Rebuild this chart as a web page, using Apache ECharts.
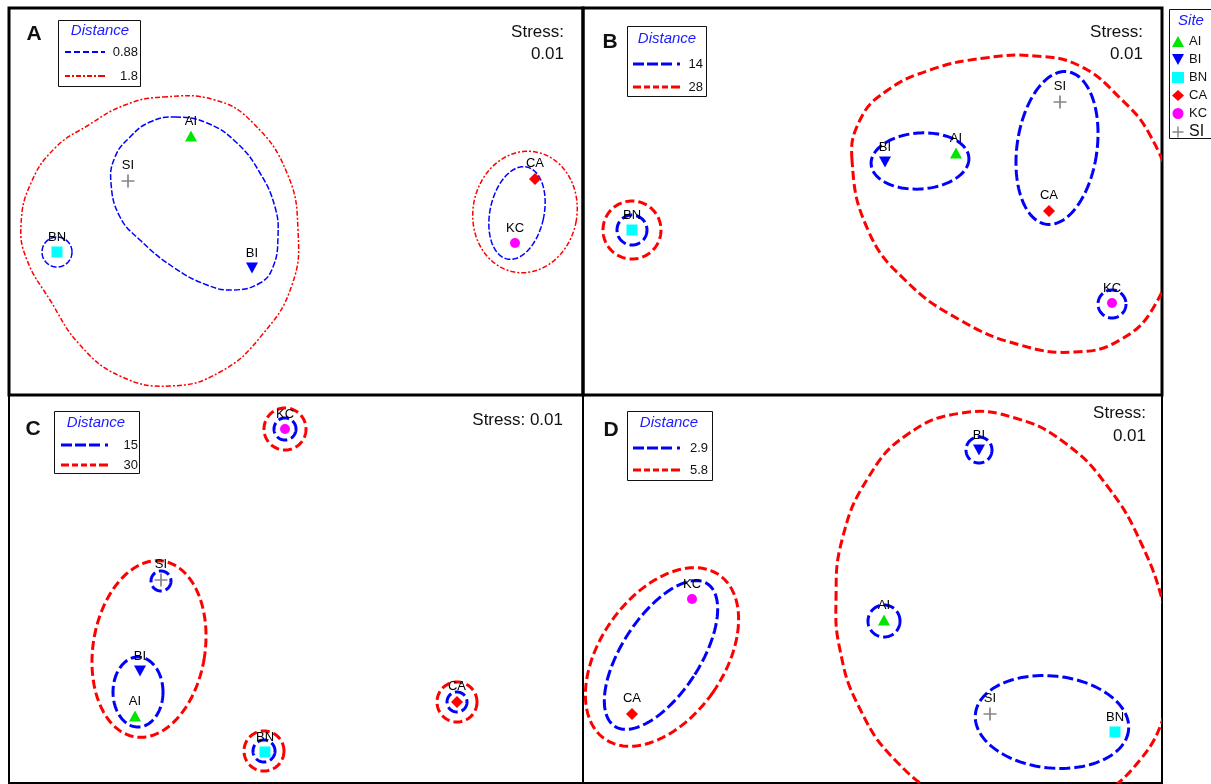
<!DOCTYPE html>
<html>
<head>
<meta charset="utf-8">
<title>nMDS panels</title>
<script src="https://cdn.jsdelivr.net/npm/echarts/dist/echarts.min.js"></script>
<style>
  html, body { margin: 0; padding: 0; background: #fff; }
  #chart { width: 1211px; height: 784px; }
</style>
</head>
<body>
<div id="chart"></div>
<script>
// sites, in legend order
const sites = ["AI", "BI", "BN", "CA", "KC", "SI"]

// site positions per panel (same order as sites)
const posA = [[191, 136], [252, 268], [57, 252], [535, 179], [515, 243], [128, 181]]
const posB = [[956, 153], [885, 162], [632, 230], [1049, 211], [1112, 303], [1060, 102]]
const posC = [[135, 716], [140, 671], [265, 752], [457, 702], [285, 429], [161, 580]]
const posD = [[884, 620], [979, 450], [1115, 732], [632, 714], [692, 599], [990, 714]]

// distance levels per panel (small, large)
const levelsA = ["0.88", "1.8"]
const levelsB = ["14", "28"]
const levelsC = ["15", "30"]
const levelsD = ["2.9", "5.8"]

// cluster rings: [cx, cy, rx, ry, tilt deg]
const ringsA1 = [[57, 252, 15, 15, 0], [517, 213, 27, 47, 12]]
const ringsA2 = [[525, 212, 52, 61, 10]]
const ringsB1 = [[632, 230, 15, 15, 0], [1112, 304, 14, 14, 0], [920, 161, 49, 28, -4], [1057, 148, 40, 77, 8]]
const ringsB2 = [[632, 230, 29, 29, 0]]
const ringsC1 = [[285, 429, 11, 11, 0], [161, 581, 10, 10, 0], [457, 702, 10, 10, 0], [264, 751, 11, 11, 0], [138, 692, 25, 35, 0]]
const ringsC2 = [[285, 429, 21, 21, 0], [457, 702, 20, 20, 0], [264, 751, 20, 20, 0], [149, 649, 56, 89, 9]]
const ringsD1 = [[979, 450, 13, 13, 0], [884, 621, 16, 16, 0], [661, 655, 39, 85, 33], [1052, 722, 77, 46, 6]]
const ringsD2 = [[662, 657, 62, 100, 35]]

// free-form cluster outlines
const loopA1 = [[175, 117], [207, 123], [237, 143], [260, 173], [275, 207], [278, 237], [273, 267], [260, 283],
  [233, 290], [207, 285], [173, 267], [140, 240], [120, 217], [111, 183], [115, 157], [130, 137], [150, 122]]
const loopA2 = [[163, 97], [215, 100], [253, 123], [287, 173], [298, 230], [292, 285], [262, 335], [220, 372],
  [170, 386], [120, 376], [80, 345], [50, 300], [27, 260], [21, 225], [31, 183], [55, 148], [87, 126], [125, 105]]
const loopB2 = [[852, 160], [860, 120], [885, 92], [930, 70], [985, 58], [1035, 56], [1080, 66], [1120, 98],
  [1150, 135], [1170, 190], [1172, 250], [1155, 305], [1120, 340], [1075, 352], [1020, 345], [960, 320],
  [905, 280], [868, 230]]
const loopD2 = [[836, 600], [842, 540], [868, 478], [908, 434], [962, 413], [1015, 418], [1065, 443], [1108, 487],
  [1142, 545], [1165, 610], [1175, 665], [1168, 705], [1140, 760], [1090, 800], [1020, 820], [950, 800],
  [895, 760], [858, 705], [840, 650]]

// ---- styles ----
const FONT = "Liberation Sans, Arial, sans-serif"
const BLUE = "#0000ff"
const RED = "#ff0000"
const siteColors = ["#00e600", "#0000ff", "#00ffff", "#ff0000", "#ff00ff", "#888888"]
const plusPath = "path://M5.2,0h1.6v5.2h5.2v1.6h-5.2v5.2h-1.6v-5.2h-5.2v-1.6h5.2z"
const siteSymbols = ["triangle", "triangle", "rect", "diamond", "circle", plusPath]
const siteSizes = [[12, 11], [12, 11], 11, 12, 10, 13]

const panels = [
  { x: [9, 583], y: [8, 395], bw: 3, pos: posA },
  { x: [583, 1162], y: [8, 395], bw: 3, pos: posB },
  { x: [9, 583], y: [395, 783], bw: 2, pos: posC },
  { x: [583, 1162], y: [395, 783], bw: 2, pos: posD }
]

function lineStyleFor(color, thin) {
  if (thin) {
    return color === BLUE
      ? { lineWidth: 1.5, lineDash: [6, 2] }
      : { lineWidth: 1.5, lineDash: [5, 2, 2, 2] }
  }
  return color === BLUE
    ? { lineWidth: 3, lineDash: [11, 4] }
    : { lineWidth: 3, lineDash: [9, 4] }
}

// ellipses / circles through the grid's scales
function ringSeries(name, data, gi, color, thin) {
  const ls = lineStyleFor(color, thin)
  return {
    type: "custom",
    name: name,
    xAxisIndex: gi,
    yAxisIndex: gi,
    data: data,
    clip: true,
    silent: true,
    z: 2,
    itemStyle: { color: color },
    renderItem: function (params, api) {
      const c = api.coord([api.value(0), api.value(1)])
      const s = api.size([api.value(2), api.value(3)])
      const rx = Math.abs(s[0]), ry = Math.abs(s[1])
      const a = api.value(4) * Math.PI / 180
      const pts = []
      for (let i = 0; i < 120; i++) {
        const t = i / 120 * Math.PI * 2
        const x = rx * Math.cos(t), y = ry * Math.sin(t)
        pts.push([c[0] + x * Math.cos(a) - y * Math.sin(a), c[1] + x * Math.sin(a) + y * Math.cos(a)])
      }
      return {
        type: "polygon",
        shape: { points: pts },
        style: { fill: "none", stroke: color, lineWidth: ls.lineWidth, lineDash: ls.lineDash }
      }
    }
  }
}

// closed smooth outline through read points
function loopSeries(name, data, gi, color, thin) {
  const ls = lineStyleFor(color, thin)
  return {
    type: "custom",
    name: name,
    xAxisIndex: gi,
    yAxisIndex: gi,
    data: data,
    clip: true,
    silent: true,
    z: 2,
    itemStyle: { color: color },
    renderItem: function (params, api) {
      if (params.dataIndex !== 0) return null
      const pts = data.map(function (p) { return api.coord(p) })
      return {
        type: "polygon",
        shape: { points: pts, smooth: 0.45 },
        style: { fill: "none", stroke: color, lineWidth: ls.lineWidth, lineDash: ls.lineDash }
      }
    }
  }
}

const series = []
series.push(ringSeries(levelsA[0], ringsA1, 0, BLUE, true))
series.push(loopSeries(levelsA[0], loopA1, 0, BLUE, true))
series.push(ringSeries(levelsA[1], ringsA2, 0, RED, true))
series.push(loopSeries(levelsA[1], loopA2, 0, RED, true))
series.push(ringSeries(levelsB[0], ringsB1, 1, BLUE))
series.push(ringSeries(levelsB[1], ringsB2, 1, RED))
series.push(loopSeries(levelsB[1], loopB2, 1, RED))
series.push(ringSeries(levelsC[0], ringsC1, 2, BLUE))
series.push(ringSeries(levelsC[1], ringsC2, 2, RED))
series.push(ringSeries(levelsD[0], ringsD1, 3, BLUE))
series.push(ringSeries(levelsD[1], ringsD2, 3, RED))
series.push(loopSeries(levelsD[1], loopD2, 3, RED))

panels.forEach(function (p, gi) {
  sites.forEach(function (name, j) {
    series.push({
      type: "scatter",
      name: name,
      xAxisIndex: gi,
      yAxisIndex: gi,
      data: [p.pos[j]],
      symbol: siteSymbols[j],
      symbolSize: siteSizes[j],
      symbolRotate: j === 1 ? 180 : 0,
      itemStyle: { color: siteColors[j], opacity: 1 },
      label: {
        show: true,
        position: "top",
        distance: 3,
        formatter: name,
        color: "#000",
        opacity: 1,
        fontSize: 13,
        fontFamily: FONT
      },
      z: 5
    })
  })
})

// legend icons (dashed strokes)
const iconBlueThin = "path://M0,0h6v2h-6zM9,0h6v2h-6zM18,0h6v2h-6zM27,0h6v2h-6zM36,0h4v2h-4z"
const iconRedThin = "path://M0,0h5v2h-5zM7,0h2v2h-2zM11,0h5v2h-5zM18,0h2v2h-2zM22,0h5v2h-5zM29,0h2v2h-2zM33,0h7v2h-7z"
const iconBlue = "path://M0,0h11v3h-11zM14,0h11v3h-11zM28,0h11v3h-11zM44,0h3v3h-3z"
const iconRed = "path://M0,0h8v3h-8zM11,0h6v3h-6zM20,0h6v3h-6zM29,0h6v3h-6zM38,0h9v3h-9z"
const iconDown = "path://M0,0L12,0L6,11Z"

function distLegend(levels, left, top, gap, thin, textW) {
  return {
    data: [
      { name: levels[0], icon: thin ? iconBlueThin : iconBlue },
      { name: levels[1], icon: thin ? iconRedThin : iconRed }
    ],
    orient: "vertical",
    left: left,
    top: top,
    padding: 0,
    itemGap: gap,
    itemWidth: thin ? 40 : 47,
    itemHeight: thin ? 2 : 3,
    selectedMode: false,
    formatter: function (n) { return "{r|" + n + "}" },
    textStyle: {
      color: "#111",
      fontFamily: FONT,
      fontSize: 13,
      lineHeight: 16,
      rich: { r: { width: textW, align: "right", fontSize: 13, lineHeight: 16, fontFamily: FONT, color: "#111" } }
    }
  }
}

function txt(text, x, y, size, opts) {
  opts = opts || {}
  return {
    type: "text",
    x: x,
    y: y,
    z: 10,
    style: {
      text: text,
      fill: opts.fill || "#111",
      font: (opts.italic ? "italic " : "") + (opts.bold ? "bold " : "") + size + "px " + FONT,
      align: opts.align || "center",
      verticalAlign: "middle"
    }
  }
}

function box(x, y, w, h) {
  return {
    type: "rect",
    z: 0,
    shape: { x: x + 0.5, y: y + 0.5, width: w, height: h },
    style: { fill: "#fff", stroke: "#111", lineWidth: 1 }
  }
}

const chart = echarts.init(document.getElementById("chart"))

chart.setOption({
  animation: false,
  grid: panels.map(function (p) {
    return {
      left: p.x[0], top: p.y[0],
      width: p.x[1] - p.x[0], height: p.y[1] - p.y[0],
      show: true, borderColor: "#000", borderWidth: p.bw,
      backgroundColor: "transparent"
    }
  }),
  xAxis: panels.map(function (p, i) {
    return { type: "value", gridIndex: i, min: p.x[0], max: p.x[1], show: false }
  }),
  yAxis: panels.map(function (p, i) {
    return { type: "value", gridIndex: i, min: p.y[0], max: p.y[1], inverse: true, show: false }
  }),
  legend: [
    distLegend(levelsA, 65, 44, 8, true, 28),
    distLegend(levelsB, 633, 56, 7, false, 18),
    distLegend(levelsC, 61, 437, 4, false, 25),
    distLegend(levelsD, 633, 440, 6, false, 23),
    {
      data: sites.map(function (s) { return s === "BI" ? { name: s, icon: iconDown } : s }),
      orient: "vertical",
      left: 1172,
      top: 34,
      padding: 0,
      itemGap: 3,
      itemWidth: 12,
      itemHeight: 11,
      selectedMode: false,
      formatter: function (n) { return n === "SI" ? "{b|" + n + "}" : n },
      textStyle: {
        color: "#111", fontFamily: FONT, fontSize: 13, lineHeight: 15,
        rich: { b: { fontSize: 16, lineHeight: 15, fontFamily: FONT, color: "#111" } }
      }
    }
  ],
  graphic: [
    box(58, 20, 82, 66),
    box(627, 26, 79, 70),
    box(54, 411, 85, 62),
    box(627, 411, 85, 69),
    box(1169, 9, 50, 129),
    txt("Distance", 100, 31, 15, { italic: true, fill: "#1a1aff" }),
    txt("Distance", 667, 39, 15, { italic: true, fill: "#1a1aff" }),
    txt("Distance", 96, 423, 15, { italic: true, fill: "#1a1aff" }),
    txt("Distance", 669, 423, 15, { italic: true, fill: "#1a1aff" }),
    txt("Site", 1191, 21, 15, { italic: true, fill: "#1a1aff" }),
    txt("A", 34, 34, 21, { bold: true }),
    txt("B", 610, 42, 21, { bold: true }),
    txt("C", 33, 429, 21, { bold: true }),
    txt("D", 611, 430, 21, { bold: true }),
    txt("Stress:", 564, 32, 17, { align: "right" }),
    txt("0.01", 564, 54, 17, { align: "right" }),
    txt("Stress:", 1143, 32, 17, { align: "right" }),
    txt("0.01", 1143, 54, 17, { align: "right" }),
    txt("Stress: 0.01", 563, 420, 17, { align: "right" }),
    txt("Stress:", 1146, 413, 17, { align: "right" }),
    txt("0.01", 1146, 436, 17, { align: "right" })
  ],
  series: series
})

window.addEventListener("resize", function () { chart.resize() })
</script>
</body>
</html>
